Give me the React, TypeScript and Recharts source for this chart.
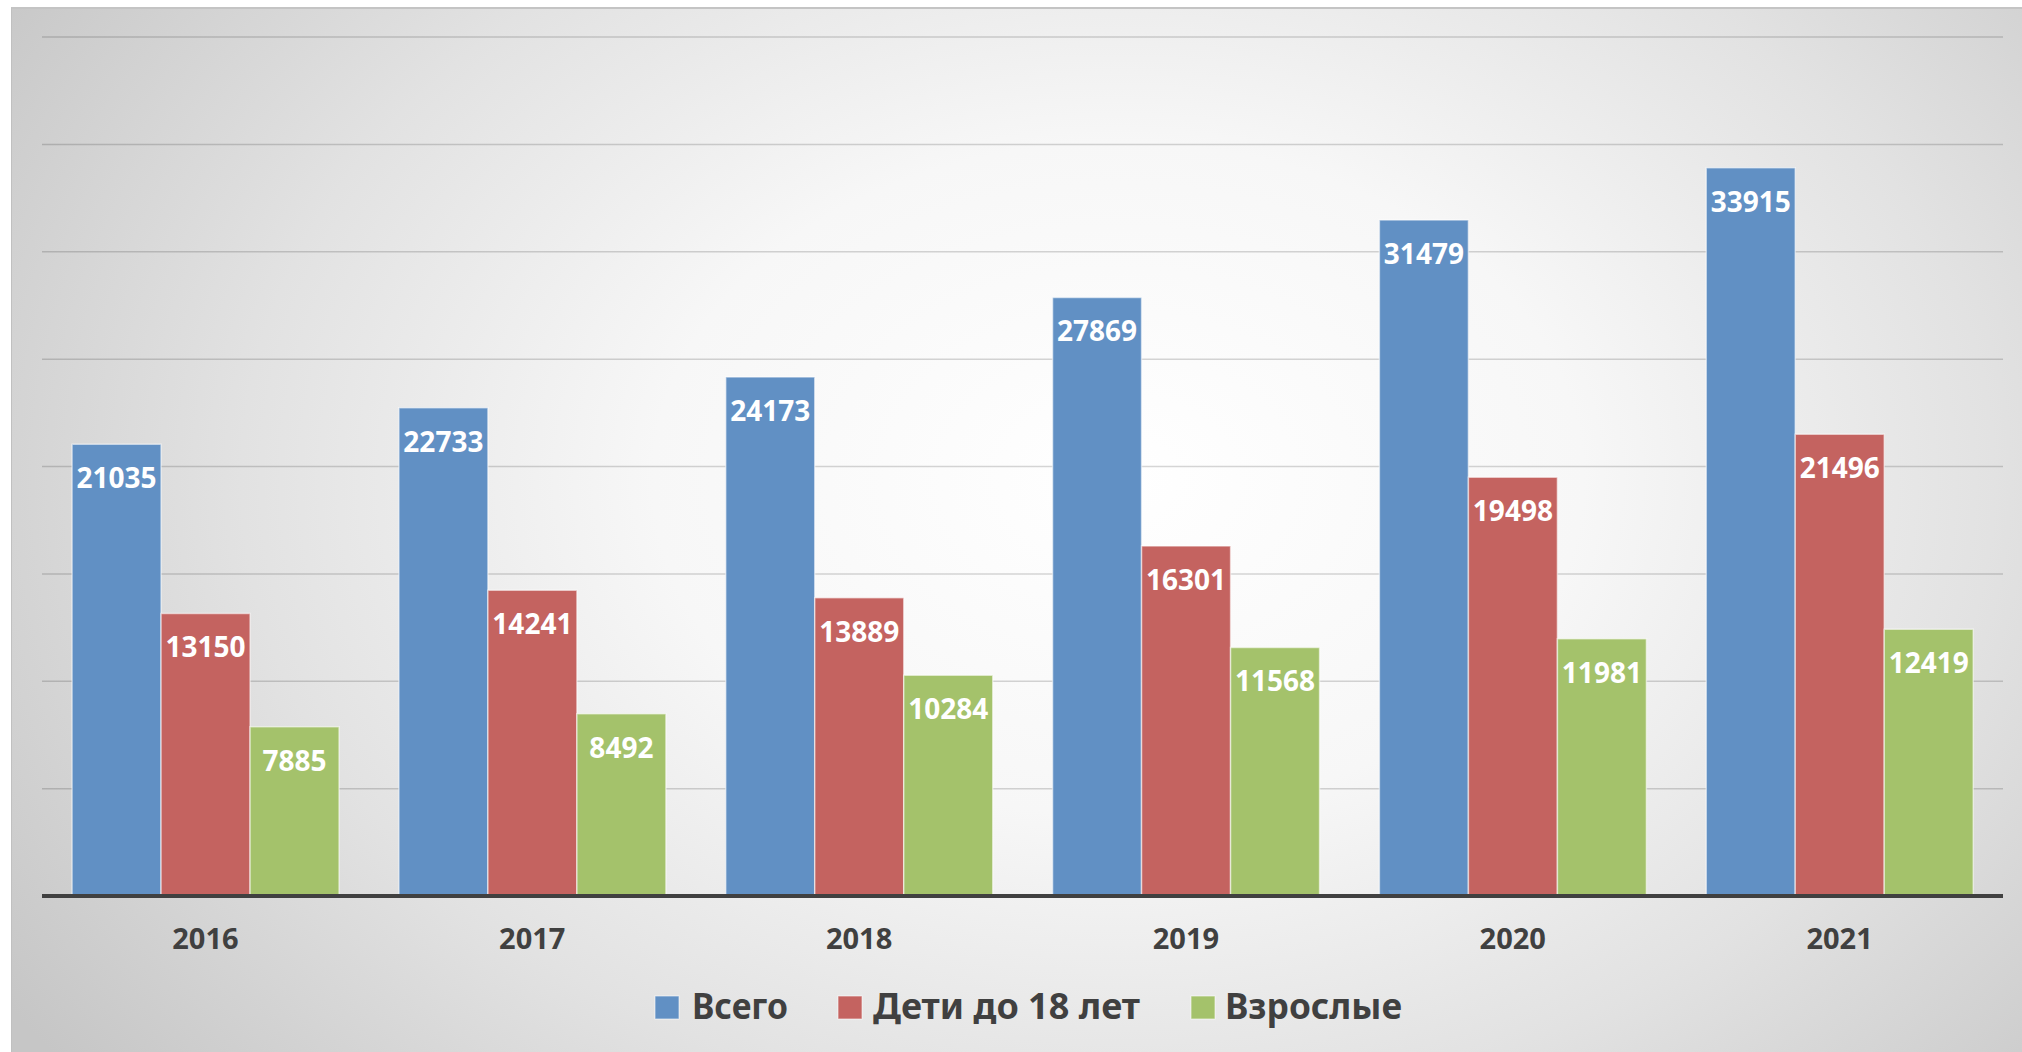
import { BarChart, Bar, XAxis, YAxis, CartesianGrid, LabelList } from "recharts";

const years = ["2016", "2017", "2018", "2019", "2020", "2021"];
const total = [21035, 22733, 24173, 27869, 31479, 33915];
const children = [13150, 14241, 13889, 16301, 19498, 21496];
const adults = [7885, 8492, 10284, 11568, 11981, 12419];
const yTicks = [0, 5000, 10000, 15000, 20000, 25000, 30000, 35000, 40000];

const series = [
  { key: "total", name: "Всего", color: "#6190c4" },
  { key: "children", name: "Дети до 18 лет", color: "#c46360" },
  { key: "adults", name: "Взрослые", color: "#a4c26b" },
];

const data = years.map((year, i) => ({
  year,
  total: total[i],
  children: children[i],
  adults: adults[i],
}));

const FONT = "'Noto Sans', sans-serif";
const INK = "#404040";

// Fixed legend slots so the three entries sit where the source puts them.
const legendLayout = [
  { sq: 0, tx: 37, w: 96 },
  { sq: 183, tx: 218, w: 267 },
  { sq: 536, tx: 570, w: 177 },
];

function ChartLegend(): JSX.Element {
  return (
    <svg width={760} height={66} style={{ position: "absolute", left: 655, top: 976, overflow: "visible" }}>
      {series.map((s, i) => (
        <g key={s.key}>
          <rect x={legendLayout[i].sq} y={20} width={24} height={23} fill={s.color} stroke="rgba(255,255,255,0.6)" />
          <text
            x={legendLayout[i].tx}
            y={43}
            textLength={legendLayout[i].w}
            lengthAdjust="spacingAndGlyphs"
            fontFamily={FONT}
            fontWeight={700}
            fontSize={35}
            fill={INK}
          >
            {s.name}
          </text>
        </g>
      ))}
    </svg>
  );
}

export default function App(): JSX.Element {
  return (
    <div style={{ position: "absolute", left: 0, top: 0, width: 2022, height: 1052, background: "#fff", overflow: "hidden" }}>
      <div
        style={{
          position: "absolute",
          left: 11,
          top: 7,
          width: 2011,
          height: 1045,
          borderTop: "2px solid #c4c4c4",
          borderLeft: "1px solid #c0c0c0",
          background:
            "radial-gradient(ellipse 66% 92% at 55% 45%, #ffffff 0%, #f7f7f7 35%, #e2e2e2 66%, #c6c6c6 100%)",
        }}
      />
      <div style={{ position: "absolute", left: 0, top: 0 }}>
        <BarChart
          width={2022}
          height={1052}
          data={data}
          margin={{ top: 37, right: 19, left: 42, bottom: 96 }}
          barCategoryGap="9.2%"
          barGap={0}
        >
          <CartesianGrid vertical={false} stroke="rgba(0,0,0,0.16)" strokeWidth={1.5} />
          <YAxis hide domain={[0, 40000]} ticks={yTicks} />
          <XAxis
            dataKey="year"
            height={60}
            tickLine={false}
            axisLine={{ stroke: INK, strokeWidth: 4 }}
            tickMargin={26}
            tick={{ fontSize: 29, fontWeight: 700, fill: INK, fontFamily: FONT }}
          />
          {series.map((s) => (
            <Bar
              key={s.key}
              dataKey={s.key}
              name={s.name}
              fill={s.color}
              stroke="rgba(255,255,255,0.55)"
              strokeWidth={1.5}
              isAnimationActive={false}
            >
              <LabelList
                dataKey={s.key}
                position="insideTop"
                offset={24}
                fill="#fff"
                fontSize={28}
                fontWeight={700}
                fontFamily={FONT}
              />
            </Bar>
          ))}
        </BarChart>
      </div>
      <ChartLegend />
    </div>
  );
}
